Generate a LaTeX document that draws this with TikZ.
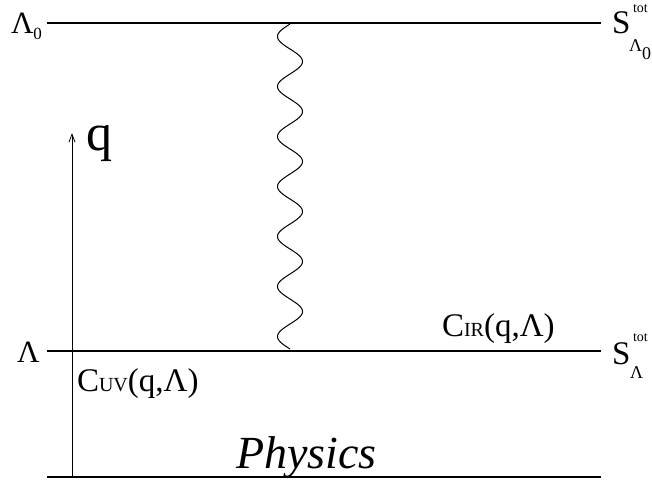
\documentclass[tikz,border=0pt]{standalone}
\usepackage{fontspec}
\setmainfont{Liberation Serif}
\usetikzlibrary{arrows.meta}
\newcommand{\fs}[1]{\fontsize{#1}{#1}\selectfont}
\begin{document}
\begin{tikzpicture}[x=1pt,y=-1pt,
  level/.style={line width=1.6pt},
  lbl/.style={anchor=base west, inner sep=0pt, outer sep=0pt},
  big/.style={lbl, font=\fs{31}}]
\useasboundingbox (0,0) rectangle (652,483);
% level lines
\coordinate (t1) at (47,23);  \coordinate (t2) at (601,23);
\coordinate (m1) at (47,351); \coordinate (m2) at (601,351);
\coordinate (b1) at (47,477); \coordinate (b2) at (601,477);
\draw[level] (t1) -- (t2);
\draw[level] (m1) -- (m2);
\draw[level] (b1) -- (b2);
% q axis
\coordinate (qa) at (72,477); \coordinate (qb) at (72,133);
\draw[line width=0.8pt, -{Straight Barb[length=8pt,width=6pt]}] (qa) -- (qb);
\node[lbl, font=\fs{52}] (q) at (86,150) {q};
% wavy line
\coordinate (wb) at (290,349); \coordinate (wt) at (290,24);
\draw[line width=1pt] plot[domain=0:325, samples=400, smooth]
  ({290 - 12.5*sin(\x*7.2)}, {349-\x});
% left labels
\node[big] (L0) at (11,33) {Λ\raisebox{-6pt}{\fs{17}0}};
\node[big] (L) at (17,362) {Λ};
% right labels
\node[lbl, font=\fs{33}] (S0) at (612,33) {S};
\node[lbl, font=\fs{14}] (S0t) at (633,12) {tot};
\node[lbl, font=\fs{18}] (S0s) at (629,51) {Λ\raisebox{-8pt}{\fs{18}0}};
\node[lbl, font=\fs{33}] (S1) at (612,364) {S};
\node[lbl, font=\fs{14}] (S1t) at (633,341) {tot};
\node[lbl, font=\fs{18}] (S1s) at (630,378) {Λ};
% cutoff labels
\node[lbl, font=\fs{33}] (CUV) at (77,391) {C{\fs{20}UV}(q,Λ)};
\node[lbl, font=\fs{33}] (CIR) at (442,336) {C{\fs{20}IR}(q,Λ)};
\node[lbl, font=\fs{46}\itshape] (ph) at (236,468) {Physics};
\end{tikzpicture}
\end{document}
